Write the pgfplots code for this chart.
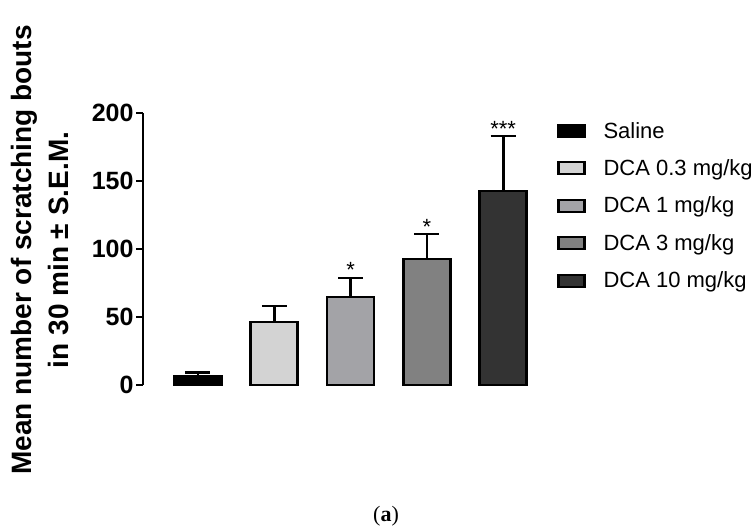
\documentclass[border=0pt]{standalone}
\usepackage{fontspec}
\setmainfont{Liberation Sans}
\newfontfamily\capfont{Liberation Serif}
\usepackage{pgfplots}
\pgfplotsset{compat=1.18}

\definecolor{c0}{HTML}{000000}
\definecolor{c1}{HTML}{D3D3D3}
\definecolor{c2}{HTML}{A3A3A7}
\definecolor{c3}{HTML}{818181}
\definecolor{c4}{HTML}{333333}

\begin{document}
\begin{tikzpicture}
\path[use as bounding box] (0,0) rectangle (755pt,532pt);
\begin{axis}[
    at={(143pt,147pt)}, anchor=south west,
    scale only axis,
    width=406pt, height=272pt,
    xmin=0.28, xmax=5.6,
    ymin=0, ymax=200,
    axis y line=left, axis x line=none,
    axis line style={-, line width=2.6pt},
    ytick={0,50,100,150,200}, xtick=\empty,
    tick align=outside, major tick length=7pt,
    tick style={line width=2.6pt, black},
    yticklabel style={font=\fontsize{25}{25}\selectfont\bfseries, xshift=1pt},
    /pgf/number format/assume math mode=true,
    ybar, bar width=47pt, bar shift=0pt,
    every axis plot/.append style={draw=black, line width=2.6pt},
    error bars/y dir=plus, error bars/y explicit,
    error bars/error mark=|,
    error bars/error bar style={line width=2.6pt, black},
    error bars/error mark options={line width=2.6pt, mark size=12.5pt, black},
    legend image code/.code={\draw[#1, line width=2.2pt] (0pt,-6pt) rectangle (26pt,6pt);},
    legend cell align=left,
    legend style={at={(1.02,0.967)}, anchor=north west, draw=none, fill=none,
        inner sep=0pt, row sep=20pt,
        font=\fontsize{22}{22}\selectfont,
        nodes={inner sep=0pt},
        /tikz/every odd column/.append style={column sep=18pt}},
    clip=false,
]
\addplot[fill=c0] coordinates {(1,6.6) +- (0,2.4)};
\addplot[fill=c1] coordinates {(2,46.3) +- (0,11.7)};
\addplot[fill=c2] coordinates {(3,64.7) +- (0,14.0)};
\addplot[fill=c3] coordinates {(4,92.6) +- (0,18.4)};
\addplot[fill=c4] coordinates {(5,142.6) +- (0,40.4)};
\legend{Saline, DCA 0.3 mg/kg, DCA 1 mg/kg, DCA 3 mg/kg, DCA 10 mg/kg}

\node[anchor=base, font=\fontsize{22}{22}\selectfont] at (axis cs:3,78.7) {*};
\node[anchor=base, font=\fontsize{22}{22}\selectfont] at (axis cs:4,111) {*};
\node[anchor=base, font=\fontsize{22}{22}\selectfont] at (axis cs:5,183) {***};
\end{axis}
\node[rotate=90, align=center, font=\fontsize{28}{37}\selectfont\bfseries]
    at (40pt,282pt) {Mean number of scratching bouts\\in 30 min ± S.E.M.};
\node[font=\capfont\fontsize{22}{22}\selectfont] at (386pt,16pt) {(\textbf{a})};
\end{tikzpicture}
\end{document}
